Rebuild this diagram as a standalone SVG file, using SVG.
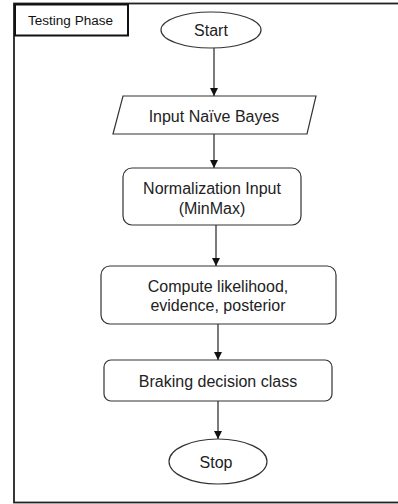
<svg xmlns="http://www.w3.org/2000/svg" width="398" height="504" viewBox="0 0 398 504">
<defs>
<marker id="arr" viewBox="0 0 10 10" refX="10" refY="5" markerWidth="8" markerHeight="8" markerUnits="userSpaceOnUse" orient="auto">
<path d="M0,0 L10,5 L0,10 z" fill="#111"/>
</marker>
<style>
.shape{fill:#fff;stroke:#333;stroke-width:1.2}
.t{font-family:"Liberation Sans",Arial,sans-serif;font-size:16px;fill:#222;text-anchor:middle}
.conn{stroke:#222;stroke-width:1.2;fill:none}
</style>
</defs>
<rect width="398" height="504" fill="#fff"/>
<g id="frame">
<rect x="14" y="3.5" width="400" height="499" fill="none" stroke="#222" stroke-width="1.8"/>
</g>
<g id="title">
<rect x="15" y="4.5" width="113" height="31" fill="#fff" stroke="#111" stroke-width="2"/>
<text x="28" y="25" font-family="&quot;Liberation Sans&quot;,Arial,sans-serif" font-size="12.5" fill="#111" textLength="85" lengthAdjust="spacingAndGlyphs">Testing Phase</text>
</g>
<g id="connectors">
<line class="conn" x1="214" y1="48" x2="214" y2="96" marker-end="url(#arr)"/>
<line class="conn" x1="214" y1="134" x2="214" y2="168" marker-end="url(#arr)"/>
<line class="conn" x1="216" y1="225" x2="216" y2="266" marker-end="url(#arr)"/>
<line class="conn" x1="218" y1="324" x2="218" y2="360" marker-end="url(#arr)"/>
<line class="conn" x1="218" y1="401" x2="218" y2="439" marker-end="url(#arr)"/>
</g>
<g id="start">
<ellipse class="shape" cx="211" cy="30" rx="50" ry="18"/>
<text class="t" x="211" y="36">Start</text>
</g>
<g id="input">
<polygon class="shape" points="123,96 316,96 307,134 113,134"/>
<text class="t" x="214" y="121.5">Input Naïve  Bayes</text>
</g>
<g id="normalization">
<rect class="shape" x="123" y="168" width="178" height="57" rx="9"/>
<text class="t" x="212" y="193.5">Normalization Input</text>
<text class="t" x="212" y="213.5">(MinMax)</text>
</g>
<g id="compute">
<rect class="shape" x="101" y="266" width="235" height="58" rx="9"/>
<text class="t" x="218" y="291.5">Compute likelihood,</text>
<text class="t" x="218" y="310.5">evidence, posterior</text>
</g>
<g id="braking">
<rect class="shape" x="104" y="360" width="228" height="41" rx="7"/>
<text class="t" x="218" y="386.5">Braking decision class</text>
</g>
<g id="stop">
<ellipse class="shape" cx="218" cy="461.5" rx="49" ry="22.5"/>
<text class="t" x="216" y="467.5">Stop</text>
</g>
</svg>
